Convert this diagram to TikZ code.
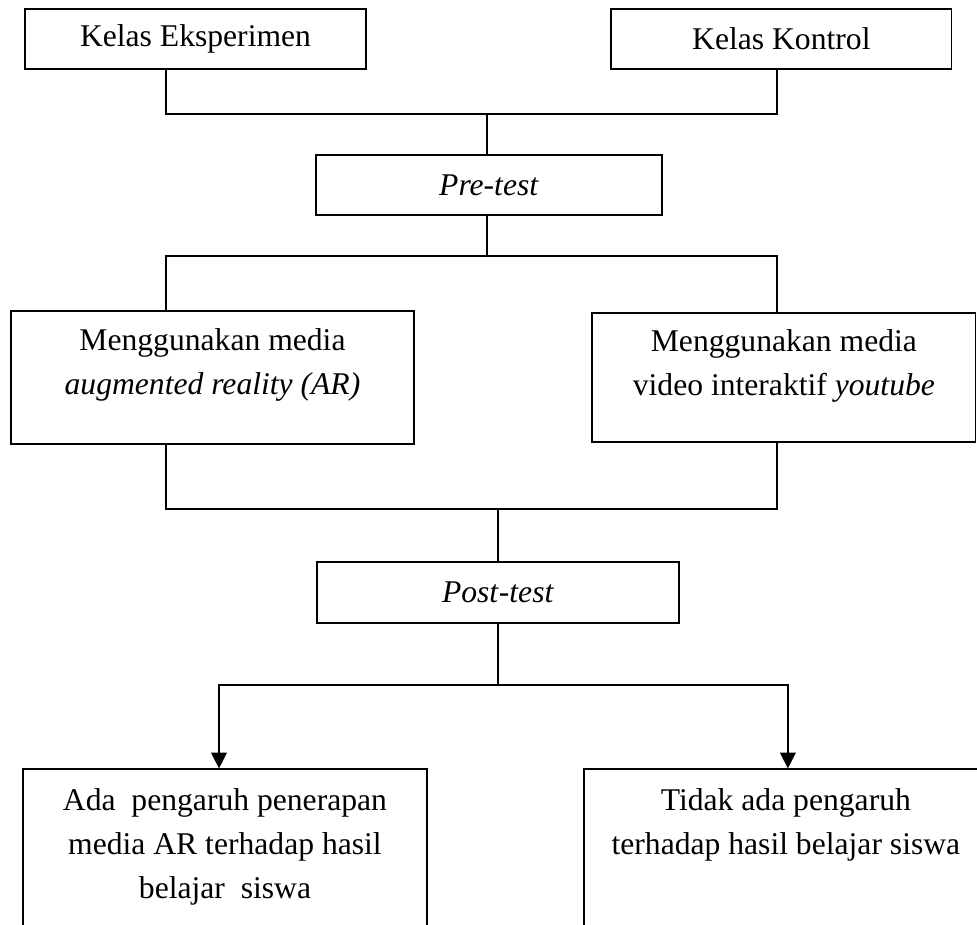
\documentclass[tikz,border=0pt]{standalone}
\usepackage{fontspec}
\setmainfont{Liberation Serif}
\usetikzlibrary{positioning, arrows.meta}
\tikzset{
    box/.style={draw, line width=0.7pt, align=center, inner sep=0pt, font=\fontsize{18}{25}\selectfont}, % every box of the scheme
    link/.style={line width=0.7pt}, % plain connector
    arr/.style={link, -{Triangle[width=9pt, length=9pt]}}, % connector with a filled head
}

\begin{document}
\begin{tikzpicture}[x=0.02cm, y=-0.02cm]
    \useasboundingbox (0,0) rectangle (977,924);
    \clip (0,0) rectangle (977,924);
    % groups
    \node[box, minimum width=6.82cm, minimum height=1.2cm] (eks) at (195.5,39) {Kelas Eksperimen};
    \node[box, minimum width=6.82cm, minimum height=1.2cm, right of=eks, node distance=11.72cm] (kon) {Kelas Kontrol};
    \node[box, minimum width=6.92cm, minimum height=1.2cm] (pre) at (489,185) {\textit{Pre-test}};
    % treatments
    \node[box, minimum width=8.06cm, minimum height=2.66cm] (ar) at (212.5,377.5) {Menggunakan media\\ \textit{augmented reality (AR)}\\[-6.4pt]~};
    \node[box, minimum width=7.68cm, minimum height=2.58cm, right of=ar, node distance=11.43cm] (yt) {Menggunakan media\\ video interaktif \textit{youtube}\\[-7.5pt]~};
    \node[box, minimum width=7.24cm, minimum height=1.22cm] (post) at (498,592.5) {\textit{Post}-\textit{test}};
    % results
    \node[box, minimum width=8.08cm, minimum height=3.4cm] (ada) at (225,854) {Ada\ \ pengaruh penerapan\\ media AR terhadap hasil\\ belajar\ \ siswa\\[-12.6pt]~};
    \node[box, minimum width=8.08cm, minimum height=3.4cm, right of=ada, node distance=11.22cm] (tdk) {Tidak ada pengaruh\\ terhadap hasil belajar siswa\\[12.4pt]~};
    % junctions
    \coordinate (j1) at (487,114);
    \coordinate (j2) at (487,256);
    \coordinate (j3) at (498,509);
    \coordinate (j4) at (498,685);
    \draw[link] ([xshift=-0.59cm]eks.south) |- (j1) -| ([xshift=-0.09cm]kon.south);
    \draw[link] (j1) -- (j1 |- pre.north);
    \draw[link] (pre.south -| j2) -- (j2);
    \draw[link] ([xshift=-0.93cm]ar.north) |- (j2) -| ([xshift=-0.14cm]yt.north);
    \draw[link] ([xshift=-0.93cm]ar.south) |- (j3) -| ([xshift=-0.14cm]yt.south);
    \draw[link] (j3) -- (post.north);
    \draw[link] (post.south) -- (j4);
    \draw[arr] (j4) -| ([xshift=-0.12cm]ada.north);
    \draw[arr] (j4) -| ([xshift=0.04cm]tdk.north);
\end{tikzpicture}
\end{document}
